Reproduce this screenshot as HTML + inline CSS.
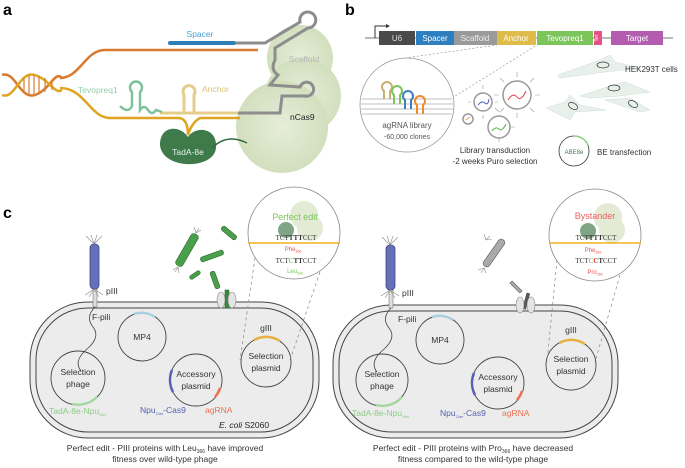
<!DOCTYPE html>
<html><head><meta charset="utf-8"><style>
body{margin:0;background:#fff}
svg{display:block;font-family:"Liberation Sans",sans-serif}
</style></head><body>
<svg width="685" height="468" viewBox="0 0 685 468" xmlns="http://www.w3.org/2000/svg">
<defs>
<radialGradient id="g1" cx="50%" cy="50%" r="50%"><stop offset="0" stop-color="#e6eddA"/><stop offset="1" stop-color="#d2dfbd"/></radialGradient>
</defs>
<!-- PANEL A -->
<text x="3" y="15" font-size="16" font-weight="bold">a</text>
<circle cx="300" cy="58" r="33" fill="url(#g1)"/>
<circle cx="303" cy="96" r="38" fill="url(#g1)"/>
<circle cx="282" cy="127" r="46" fill="url(#g1)"/>
<path d="M160 145 C160 125 180 125 188 137 C196 125 218 128 216 148 C214 170 162 170 160 145Z" fill="#3e7a4a"/>
<path d="M212 148 q15 -15 35 -5" stroke="#2f6b3c" stroke-width="1.5" fill="none"/>
<!-- DNA -->
<path d="M2 75 C15 70 20 100 35 95 S55 70 62 78" stroke="#d97a2e" stroke-width="2.5" fill="none"/>
<path d="M2 95 C15 100 20 70 35 75 S55 95 62 90" stroke="#e0a520" stroke-width="2.5" fill="none"/>
<g stroke="#d97a2e" stroke-width="1.2"><line x1="24" y1="78" x2="24" y2="92"/><line x1="29" y1="75" x2="29" y2="95"/><line x1="34" y1="75" x2="34" y2="95"/><line x1="39" y1="76" x2="39" y2="94"/><line x1="45" y1="78" x2="45" y2="92"/><line x1="52" y1="80" x2="52" y2="90"/></g>
<path d="M60 78 C80 78 85 50 105 50 L258 50" stroke="#d97a2e" stroke-width="2.5" fill="none"/>
<path d="M60 88 C85 88 90 118 110 118 L178 118 Q188 118 188 135 Q192 122 200 118 L240 118" stroke="#e0a520" stroke-width="2.5" fill="none"/>
<rect x="168" y="41" width="68" height="4" rx="2" fill="#2e7fb8"/>
<text x="200" y="37" font-size="8.5" fill="#4aa3cf" text-anchor="middle">Spacer</text>
<path d="M236 43 L265 43 L300 22 A8 8 0 1 1 308 28 L275 48 L275 60 Q270 70 278 75 L270 85 L300 87 A7 7 0 1 1 305 96 L282 96 L280 113 L238 113" stroke="#8d8d8d" stroke-width="3" fill="none"/>
<text x="304" y="62" font-size="8.5" fill="#b8b8b8" text-anchor="middle">Scaffold</text>
<path d="M160 113 L238 113" stroke="#e4cc8a" stroke-width="3" fill="none"/>
<path d="M184 113 L184 95 A6 6 0 1 1 194 95 L194 113" stroke="#e4cc8a" stroke-width="3" fill="none"/>
<text x="202" y="92" font-size="8.5" fill="#e0c070">Anchor</text>
<path d="M120 106 q8 8 12 0 L132 92 A6 6 0 1 1 140 92 L140 110 q4 -6 8 0 t8 0 l6 2" stroke="#7dc29a" stroke-width="2.5" fill="none"/>
<text x="78" y="93" font-size="8.5" fill="#8fd0aa">Tevopreq1</text>
<text x="290" y="120" font-size="8.5" fill="#222">nCas9</text>
<text x="188" y="155" font-size="8.5" fill="#e8f0e8" text-anchor="middle">TadA-8e</text>

<!-- PANEL B -->
<text x="345" y="15" font-size="16" font-weight="bold">b</text>
<line x1="365" y1="38" x2="673" y2="38" stroke="#777" stroke-width="1"/>
<path d="M375 38 L375 26 L388 26" stroke="#333" fill="none" stroke-width="1"/><path d="M386 24 L390 26 L386 28" fill="#333"/>
<rect x="379" y="31" width="36" height="14" fill="#4a4a4a"/><text x="397" y="41" font-size="8" fill="#ddd" text-anchor="middle">U6</text>
<rect x="416" y="31" width="38" height="14" fill="#2e7fc0"/><text x="435" y="41" font-size="8" fill="#fff" text-anchor="middle">Spacer</text>
<rect x="454" y="31" width="43" height="14" fill="#9a9a9a"/><text x="475" y="41" font-size="8" fill="#eee" text-anchor="middle">Scaffold</text>
<rect x="497" y="31" width="39" height="14" fill="#dfbb4a"/><text x="516" y="41" font-size="8" fill="#fff" text-anchor="middle">Anchor</text>
<rect x="537" y="31" width="56" height="14" fill="#7cc55a"/><text x="565" y="41" font-size="8" fill="#fff" text-anchor="middle">Tevopreq1</text>
<rect x="594" y="31" width="8" height="14" fill="#e8508a"/><text x="598" y="38" font-size="5" fill="#fff" text-anchor="middle" transform="rotate(-90 598 38)">Ter</text>
<rect x="611" y="31" width="52" height="14" fill="#b35cb0"/><text x="637" y="41" font-size="8" fill="#fff" text-anchor="middle">Target</text>
<line x1="405" y1="58" x2="497" y2="45" stroke="#999" stroke-dasharray="2,2" stroke-width="0.7"/>
<line x1="452" y1="98" x2="537" y2="45" stroke="#999" stroke-dasharray="2,2" stroke-width="0.7"/>
<circle cx="407" cy="105" r="47" fill="#fff" stroke="#999" stroke-width="0.8"/>
<g stroke="#aaa" stroke-width="0.8"><line x1="362" y1="99" x2="452" y2="99"/><line x1="361" y1="104" x2="453" y2="104"/><line x1="361" y1="109" x2="453" y2="109"/><line x1="362" y1="114" x2="452" y2="114"/></g>
<g fill="none" stroke-width="2"><path d="M384 99 L384 91 A5 5 0 1 1 390 91 L390 99" stroke="#c8b070"/><path d="M394 104 L394 95 A5 5 0 1 1 400 95 L400 104" stroke="#7cc55a"/><path d="M405 109 L405 100 A5 5 0 1 1 411 100 L411 109" stroke="#3e7fc0"/><path d="M417 114 L417 105 A5 5 0 1 1 423 105 L423 114" stroke="#f08a2a"/></g>
<text x="407" y="128" font-size="8" fill="#555" text-anchor="middle">agRNA library</text>
<text x="407" y="139" font-size="7" fill="#555" text-anchor="middle">-60,000 clones</text>
<g stroke="#999" stroke-width="0.6"><path d="M517 77 v-5 M517 113 v5 M499 95 h-5 M535 95 h5 M504 82 l-4 -4 M530 82 l4 -4 M504 108 l-4 4 M530 108 l4 4 M499 112 l-4 -4 M510 127 h5 M499 142 v-4 M483 89 v-4 M483 115 v4 M471 102 h-3 M495 102 h3"/></g>
<g fill="#fff" stroke="#999" stroke-width="1.5"><circle cx="517" cy="95" r="14"/><circle cx="483" cy="102" r="9"/><circle cx="499" cy="127" r="11"/><circle cx="468" cy="119" r="5"/></g>
<path d="M508 100 q5 -8 9 -3 t9 -6" stroke="#e04050" fill="none"/><path d="M478 105 q4 -5 7 -2 t4 -4" stroke="#4a60c0" fill="none"/><path d="M492 131 q4 -5 7 -2 t7 -5" stroke="#5ab04a" fill="none"/><path d="M466 120 l4 -3" stroke="#f0a040" fill="none"/>
<text x="495" y="153" font-size="8" fill="#333" text-anchor="middle">Library transduction</text>
<text x="495" y="164" font-size="8" fill="#333" text-anchor="middle">-2 weeks Puro selection</text>
<g fill="#e8f0ec" stroke="#d0dcd6" stroke-width="0.5">
<path d="M558 75 L600 60 L610 55 L615 62 L640 68 L605 72 L560 78Z"/>
<path d="M580 96 L610 86 L625 82 L650 92 L620 96 L590 98Z"/>
<path d="M546 108 L565 102 L570 95 L580 105 L606 110 L575 112 L570 120Z"/>
<path d="M605 100 L630 98 L650 110 L640 112Z"/>
</g>
<g fill="none" stroke="#333" stroke-width="0.7"><ellipse cx="603" cy="65" rx="6" ry="3"/><ellipse cx="614" cy="88" rx="6" ry="3"/><ellipse cx="573" cy="106" rx="5" ry="3" transform="rotate(30 573 106)"/><ellipse cx="633" cy="104" rx="5" ry="3" transform="rotate(30 633 104)"/></g>
<text x="625" y="72" font-size="8" fill="#333">HEK293T cells</text>
<circle cx="574" cy="151" r="15" fill="#fff" stroke="#333" stroke-width="0.8"/>
<path d="M574 136 A15 15 0 0 1 588 145" stroke="#8fd080" stroke-width="1.5" fill="none"/>
<text x="574" y="154" font-size="6" fill="#4a7a4a" text-anchor="middle">ABE8e</text>
<text x="597" y="155" font-size="8" fill="#333">BE transfection</text>

<!-- PANEL C -->
<text x="3" y="218" font-size="16" font-weight="bold">c</text>
<g fill="#ececec" stroke="#444" stroke-width="1">
<rect x="30" y="302" width="289" height="136" rx="58"/>
<rect x="333" y="305" width="285" height="133" rx="58"/>
</g>
<g fill="none" stroke="#444" stroke-width="1">
<rect x="36" y="308" width="277" height="124" rx="52"/>
<rect x="339" y="311" width="273" height="121" rx="52"/>
</g>
<g fill="none" stroke="#444" stroke-width="0.9">
<circle cx="78" cy="378" r="27"/><circle cx="142" cy="337" r="24"/><circle cx="196" cy="380" r="26"/><circle cx="266" cy="362" r="25"/>
<circle cx="382" cy="380" r="26"/><circle cx="440" cy="340" r="24"/><circle cx="498" cy="383" r="26"/><circle cx="571" cy="365" r="25"/>
</g>
<g fill="none" stroke-width="2.5">
<path d="M72 404 A27 27 0 0 0 97 397" stroke="#a5d8a0"/>
<path d="M134 314 A24 24 0 0 1 155 317" stroke="#a8cfe0"/>
<path d="M172 370 A26 26 0 0 0 173 392" stroke="#5560b0"/>
<path d="M220 388 A26 26 0 0 1 215 397" stroke="#ee7050"/>
<path d="M254 340 A25 25 0 0 1 280 341" stroke="#e8b040"/>
<path d="M376 405 A26 26 0 0 0 402 397" stroke="#a5d8a0"/>
<path d="M432 317 A24 24 0 0 1 453 320" stroke="#a8cfe0"/>
<path d="M474 373 A26 26 0 0 0 475 395" stroke="#5560b0"/>
<path d="M522 391 A26 26 0 0 1 517 400" stroke="#ee7050"/>
<path d="M559 343 A25 25 0 0 1 585 344" stroke="#e8b040"/>
</g>
<g font-size="8.5" fill="#333" text-anchor="middle">
<text x="78" y="375">Selection</text><text x="78" y="387">phage</text>
<text x="142" y="340">MP4</text>
<text x="196" y="377">Accessory</text><text x="196" y="389">plasmid</text>
<text x="266" y="359">Selection</text><text x="266" y="371">plasmid</text>
<text x="266" y="331">gIII</text>
<text x="382" y="377">Selection</text><text x="382" y="389">phage</text>
<text x="440" y="343">MP4</text>
<text x="498" y="380">Accessory</text><text x="498" y="392">plasmid</text>
<text x="571" y="362">Selection</text><text x="571" y="374">plasmid</text>
<text x="571" y="333">gIII</text>
</g>
<g font-size="8.5">
<text x="49" y="414" fill="#8fcc88">TadA-8e-Npu<tspan font-size="4" dy="2">Nter</tspan></text>
<text x="140" y="413" fill="#5560b0">Npu<tspan font-size="4" dy="2">Cter</tspan><tspan dy="-2">-Cas9</tspan></text>
<text x="205" y="413" fill="#ee7050">agRNA</text>
<text x="352" y="416" fill="#8fcc88">TadA-8e-Npu<tspan font-size="4" dy="2">Nter</tspan></text>
<text x="440" y="416" fill="#5560b0">Npu<tspan font-size="4" dy="2">Cter</tspan><tspan dy="-2">-Cas9</tspan></text>
<text x="502" y="416" fill="#ee7050">agRNA</text>
<text x="219" y="428" fill="#222"><tspan font-style="italic">E. coli</tspan> S2060</text>
<text x="106" y="294" fill="#333">pIII</text><text x="402" y="296" fill="#333">pIII</text>
<text x="92" y="320" fill="#333">F-pili</text><text x="398" y="322" fill="#333">F-pili</text>
</g>
<g>
<rect x="90" y="244" width="9" height="45" rx="4" fill="#6670b8" stroke="#3c4488" stroke-width="0.8"/>
<rect x="386" y="245" width="9" height="45" rx="4" fill="#6670b8" stroke="#3c4488" stroke-width="0.8"/>
<rect x="93" y="289" width="4" height="18" fill="#ddd" stroke="#666" stroke-width="0.5"/>
<rect x="389" y="290" width="4" height="18" fill="#ddd" stroke="#666" stroke-width="0.5"/>
<path d="M95 307 q-10 10 -2 20 t-6 22 t-6 22" stroke="#444" fill="none" stroke-width="0.8"/>
<path d="M391 308 q-10 10 -2 20 t-6 22 t-6 22" stroke="#444" fill="none" stroke-width="0.8"/>
<g stroke="#888" stroke-width="0.6"><path d="M94 244 l-8 -8 M94 244 l-3 -9 M94 244 l3 -9 M94 244 l8 -8 M94 289 l-9 6 M94 289 l-5 8 M94 289 l5 8 M94 289 l9 6"/><path d="M390 245 l-8 -8 M390 245 l-3 -9 M390 245 l3 -9 M390 245 l8 -8 M390 290 l-9 6 M390 290 l-5 8 M390 290 l5 8 M390 290 l9 6"/></g>
</g>
<g fill="#4aa04a" stroke="#2e6a2e" stroke-width="0.6">
<rect x="-4" y="-18" width="8" height="36" rx="3" transform="translate(187 250) rotate(30)"/>
<rect x="-2.5" y="-9" width="5" height="18" rx="2" transform="translate(229 233) rotate(-50)"/>
<rect x="-2.5" y="-12" width="5" height="24" rx="2" transform="translate(212 256) rotate(70)"/>
<rect x="-2" y="-6" width="4" height="12" rx="2" transform="translate(195 275) rotate(55)"/>
<rect x="-2.5" y="-9" width="5" height="18" rx="2" transform="translate(215 280) rotate(-20)"/>
<rect x="225" y="290" width="4" height="18" fill="#3a8a3a"/>
</g>
<g stroke="#888" stroke-width="0.6"><path d="M196 233 l-2 -6 M196 233 l3 -5 M196 233 l5 -3 M178 267 l-5 3 M178 267 l-3 5 M178 267 l1 6 M486 240 l-2 -6 M486 240 l4 -4 M486 240 l6 -1 M484 268 l-6 2 M484 268 l-3 5 M484 268 l2 5"/></g>
<g fill="#aaa" stroke="#555" stroke-width="0.6">
<rect x="-3.5" y="-16" width="7" height="32" rx="3" transform="translate(494 253) rotate(35)"/>
<rect x="-1.5" y="-7" width="3" height="14" transform="translate(516 287) rotate(-45)"/>
<rect x="525" y="293" width="3" height="16" fill="#555" transform="rotate(15 526 300)"/>
</g>
<g fill="#e4e4e4" stroke="#888" stroke-width="0.6">
<ellipse cx="221" cy="300" rx="4" ry="8"/><ellipse cx="232" cy="300" rx="4" ry="8"/>
<ellipse cx="520" cy="305" rx="4" ry="8"/><ellipse cx="531" cy="305" rx="4" ry="8"/>
</g>
<g stroke="#888" stroke-width="0.7" stroke-dasharray="3,3">
<line x1="255" y1="258" x2="240" y2="360"/><line x1="320" y1="272" x2="290" y2="360"/>
<line x1="557" y1="260" x2="547" y2="362"/><line x1="620" y1="275" x2="595" y2="362"/>
</g>
<g>
<circle cx="294" cy="233" r="46" fill="#fff" stroke="#888" stroke-width="0.8"/>
<circle cx="304" cy="215" r="14" fill="#e3ebd5"/><circle cx="310" cy="228" r="13" fill="#e3ebd5"/>
<circle cx="286" cy="230" r="8" fill="#7fa585"/>
<line x1="248" y1="243" x2="340" y2="243" stroke="#f0b020" stroke-width="1.5"/>
<text x="295" y="220" font-size="9" fill="#7cc55a" text-anchor="middle">Perfect edit</text>
<text x="296" y="240" font-size="7" font-family="Liberation Serif,serif" fill="#333" text-anchor="middle">TCT<tspan font-weight="bold">TTT</tspan>CCT</text>
<text x="293" y="251" font-size="6" fill="#ee5050" text-anchor="middle">Phe<tspan font-size="3.5" dy="1.5">366</tspan></text>
<text x="296" y="263" font-size="7" font-family="Liberation Serif,serif" fill="#333" text-anchor="middle">TCT<tspan fill="#5ab04a">C</tspan><tspan font-weight="bold">TT</tspan>CCT</text>
<text x="295" y="273" font-size="6" fill="#7cc55a" text-anchor="middle">Leu<tspan font-size="3.5" dy="1.5">366</tspan></text>
</g>
<g>
<circle cx="595" cy="235" r="46" fill="#fff" stroke="#888" stroke-width="0.8"/>
<circle cx="608" cy="217" r="14" fill="#e3ebd5"/><circle cx="612" cy="230" r="13" fill="#e3ebd5"/>
<circle cx="588" cy="231" r="8" fill="#7fa585"/>
<line x1="549" y1="243" x2="641" y2="243" stroke="#f0b020" stroke-width="1.5"/>
<text x="595" y="219" font-size="9" fill="#ee6060" text-anchor="middle">Bystander</text>
<text x="596" y="240" font-size="7" font-family="Liberation Serif,serif" fill="#333" text-anchor="middle">TCT<tspan font-weight="bold">TTT</tspan>CCT</text>
<text x="593" y="252" font-size="6" fill="#ee5050" text-anchor="middle">Phe<tspan font-size="3.5" dy="1.5">366</tspan></text>
<text x="596" y="263" font-size="7" font-family="Liberation Serif,serif" fill="#333" text-anchor="middle">TCT<tspan fill="#5ab04a">C</tspan><tspan fill="#e03030" font-weight="bold">C</tspan><tspan font-weight="bold">T</tspan>CCT</text>
<text x="595" y="274" font-size="6" fill="#ee5050" text-anchor="middle">Pro<tspan font-size="3.5" dy="1.5">366</tspan></text>
</g>
<g font-size="8.5" fill="#333" text-anchor="middle">
<text x="165" y="451">Perfect edit - PIII proteins with Leu<tspan font-size="5" dy="2">366</tspan><tspan dy="-2"> have improved</tspan></text>
<text x="165" y="462">fitness over wild-type phage</text>
<text x="473" y="451">Perfect edit - PIII proteins with Pro<tspan font-size="5" dy="2">366</tspan><tspan dy="-2"> have decreased</tspan></text>
<text x="473" y="462">fitness compared to the wild-type phage</text>
</g>
</svg>
</body></html>
